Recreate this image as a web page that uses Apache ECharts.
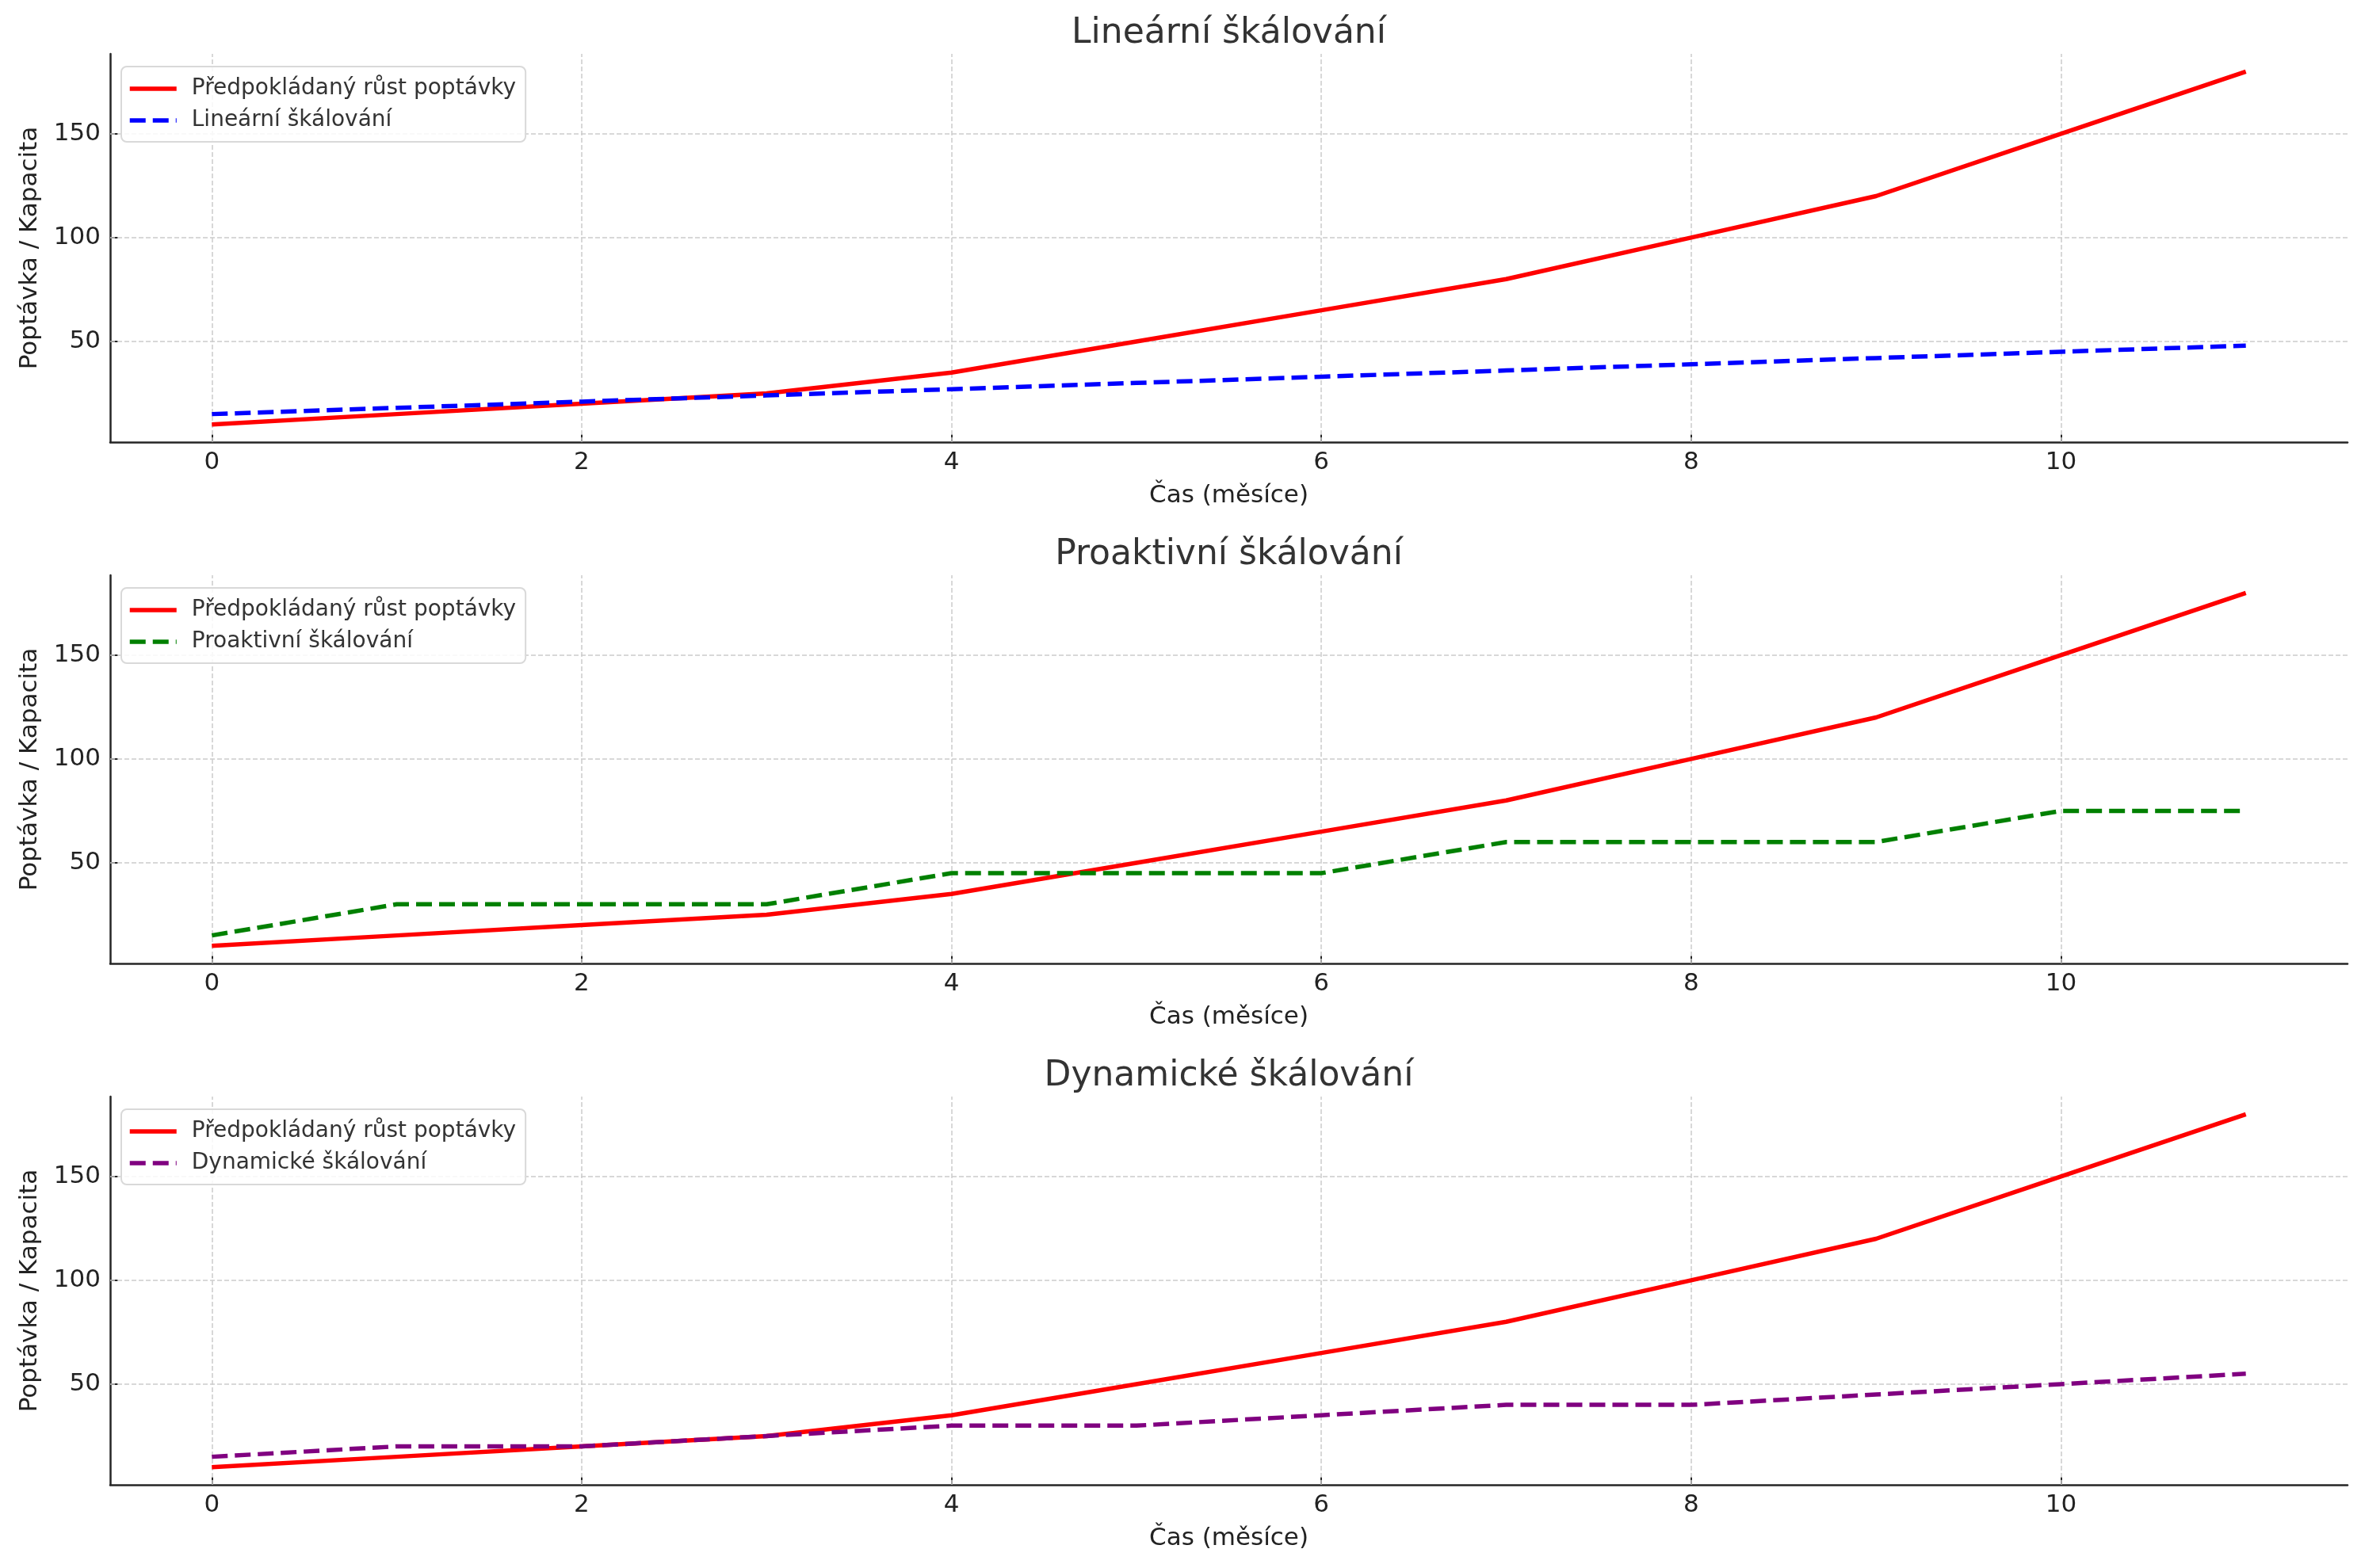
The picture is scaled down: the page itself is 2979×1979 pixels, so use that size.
<!DOCTYPE html>
<html>
<head>
<meta charset="utf-8">
<script src="https://cdn.jsdelivr.net/npm/echarts@6/dist/echarts.min.js"></script>
<style>html,body{margin:0;padding:0;background:#fff}#c{width:2979px;height:1979px}</style>
</head>
<body>
<div id="c"></div>
<script>
const months = [0, 1, 2, 3, 4, 5, 6, 7, 8, 9, 10, 11];
const demand = [10, 15, 20, 25, 35, 50, 65, 80, 100, 120, 150, 180];
const linearScaling = [15, 18, 21, 24, 27, 30, 33, 36, 39, 42, 45, 48];
const proactiveScaling = [15, 30, 30, 30, 45, 45, 45, 60, 60, 60, 75, 75];
const dynamicScaling = [15, 20, 20, 25, 30, 30, 35, 40, 40, 45, 50, 55];
const xTicks = [0, 2, 4, 6, 8, 10];
const yTicks = [50, 100, 150];
const titles = ['Lineární škálování', 'Proaktivní škálování', 'Dynamické škálování'];
const demandName = 'Předpokládaný růst poptávky';
const xName = 'Čas (měsíce)';
const yName = 'Poptávka / Kapacita';

const panels = [
  { name: 'Lineární škálování', values: linearScaling, color: '#0000ff' },
  { name: 'Proaktivní škálování', values: proactiveScaling, color: '#008000' },
  { name: 'Dynamické škálování', values: dynamicScaling, color: '#800080' }
];

const FONT = 'DejaVu Sans';
const top0 = 68, step = 658, h = 490;
const plotLeft = 139, plotRight = 2962;
const LW = 5.5, DASH = [20, 9];

const grid = [], xAxis = [], yAxis = [], series = [], legend = [], title = [];
panels.forEach((p, i) => {
  const top = top0 + i * step;
  grid.push({ left: plotLeft, width: plotRight - plotLeft, top: top, height: h, containLabel: false });
  xAxis.push({
    type: 'value', gridIndex: i, min: -0.55, max: 11.55,
    name: xName, nameLocation: 'middle', nameGap: 52,
    nameTextStyle: { fontFamily: FONT, fontSize: 31, color: '#222' },
    axisLine: { show: true, onZero: false, lineStyle: { color: '#262626', width: 2.5 } },
    axisTick: { show: true, inside: true, length: 10, customValues: xTicks, lineStyle: { color: '#262626', width: 2 } },
    axisLabel: { show: true, customValues: xTicks, margin: 10, fontFamily: FONT, fontSize: 31, color: '#222' },
    splitLine: { show: false }
  });
  yAxis.push({
    type: 'value', gridIndex: i, min: 1.5, max: 188.5,
    name: yName, nameLocation: 'middle', nameGap: 86, nameRotate: 90,
    nameTextStyle: { fontFamily: FONT, fontSize: 31, color: '#222' },
    axisLine: { show: true, onZero: false, lineStyle: { color: '#262626', width: 2.5 } },
    axisTick: { show: true, inside: true, length: 10, customValues: yTicks, lineStyle: { color: '#262626', width: 2 } },
    axisLabel: { show: true, customValues: yTicks, margin: 12, fontFamily: FONT, fontSize: 31, color: '#222' },
    splitLine: { show: false }
  });
  const gridLines = xTicks.map(v => ({ xAxis: v })).concat(yTicks.map(v => ({ yAxis: v })));
  series.push({
    type: 'line', name: demandName, xAxisIndex: i, yAxisIndex: i,
    data: months.map((m, k) => [m, demand[k]]),
    symbol: 'none', lineStyle: { color: '#ff0000', width: LW }, itemStyle: { color: '#ff0000' },
    z: 3,
    markLine: {
      silent: true, symbol: 'none', label: { show: false }, z: 1,
      lineStyle: { color: '#cccccc', type: [6, 3], width: 1.5 },
      emphasis: { disabled: true },
      data: gridLines
    }
  });
  series.push({
    type: 'line', name: p.name, xAxisIndex: i, yAxisIndex: i,
    data: months.map((m, k) => [m, p.values[k]]),
    symbol: 'none', lineStyle: { color: p.color, width: LW, type: DASH }, itemStyle: { color: p.color },
    z: 4
  });
  legend.push({
    orient: 'vertical', left: 153, top: top + 16,
    data: [
      { name: demandName, lineStyle: { color: '#ff0000', width: LW, type: 'solid' } },
      { name: p.name, lineStyle: { color: p.color, width: LW, type: DASH } }
    ],
    itemWidth: 59, itemHeight: 14, itemGap: 12,
    itemStyle: { color: 'rgba(0,0,0,0)', borderWidth: 0, opacity: 0 },
    padding: [14, 12, 13, 8],
    borderColor: '#d9d9d9', borderWidth: 2, borderRadius: 7, backgroundColor: 'rgba(255,255,255,0.85)',
    textStyle: { fontFamily: FONT, fontSize: 28, color: '#333', padding: [0, 0, 0, 14] },
    selectedMode: false
  });
  title.push({
    text: titles[i], left: (plotLeft + plotRight) / 2, textAlign: 'center', top: top - 47, padding: 0,
    textStyle: { fontFamily: FONT, fontSize: 44, fontWeight: 'normal', color: '#333' }
  });
});

const chart = echarts.init(document.getElementById('c'), null, { renderer: 'canvas' });
chart.setOption({ animation: false, backgroundColor: '#fff', grid, xAxis, yAxis, series, legend, title });
</script>
</body>
</html>
